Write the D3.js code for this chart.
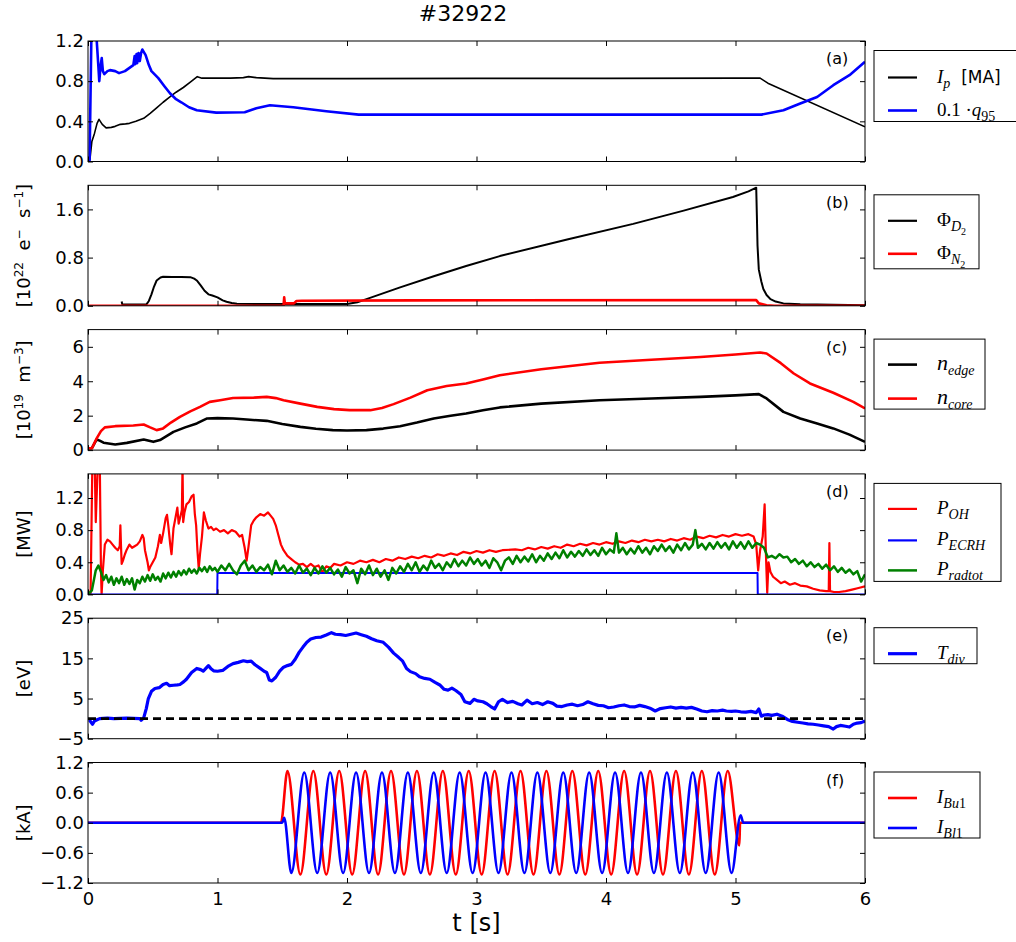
<!DOCTYPE html>
<html>
<head>
<meta charset="utf-8">
<script src="https://cdn.jsdelivr.net/npm/d3@7"></script>
<style>
  html, body { margin: 0; padding: 0; background: #fff; }
  svg { display: block; }
</style>
</head>
<body>
<div class="root"></div>
<script>
// ---- data (shot #32922), [t in s, value] ----
const timeTicks = [0, 1, 2, 3, 4, 5, 6];

const ipMA = [[0,0],[0.015,0.02],[0.03,0.2],[0.05,0.28],[0.07,0.38],[0.085,0.42],[0.11,0.37],[0.14,0.335],[0.18,0.34],[0.21,0.35],[0.25,0.37],[0.29,0.375],[0.32,0.38],[0.37,0.4],[0.43,0.43],[0.48,0.48],[0.53,0.535],[0.58,0.59],[0.63,0.64],[0.68,0.69],[0.736,0.737],[0.79,0.79],[0.844,0.845],[0.88,0.83],[0.95,0.83],[1.1,0.83],[1.2,0.835],[1.24,0.845],[1.3,0.835],[1.43,0.825],[2.0,0.825],[3.0,0.828],[4.0,0.828],[5.0,0.83],[5.19,0.83],[5.25,0.78],[6.0,0.345]];

const q95Scaled = [[0,0],[0.012,0],[0.03,1.6],[0.055,1.6],[0.065,1.25],[0.08,0.95],[0.087,0.8],[0.097,0.95],[0.106,1.03],[0.115,0.9],[0.126,0.87],[0.15,0.9],[0.17,0.91],[0.21,0.9],[0.24,0.88],[0.285,0.9],[0.35,0.96],[0.36,1.05],[0.365,0.97],[0.375,1.07],[0.38,0.98],[0.39,1.08],[0.4,1.0],[0.41,1.08],[0.42,1.115],[0.445,1.06],[0.47,0.96],[0.49,0.9],[0.543,0.83],[0.59,0.75],[0.633,0.68],[0.68,0.62],[0.72,0.59],[0.78,0.54],[0.84,0.51],[0.99,0.487],[1.21,0.49],[1.3,0.53],[1.405,0.56],[1.585,0.54],[1.84,0.5],[2.09,0.467],[5.2,0.467],[5.37,0.51],[5.5,0.577],[5.63,0.643],[5.755,0.76],[5.88,0.86],[6.0,0.993]];

const fluxD2 = [[0.26,0.07],[0.265,0.02],[0.3,0.02],[0.45,0.02],[0.47,0.08],[0.49,0.19],[0.51,0.32],[0.53,0.42],[0.56,0.47],[0.58,0.483],[0.65,0.48],[0.72,0.48],[0.79,0.475],[0.82,0.45],[0.84,0.42],[0.87,0.34],[0.9,0.25],[0.93,0.19],[0.96,0.17],[1.0,0.14],[1.04,0.09],[1.07,0.067],[1.11,0.045],[1.15,0.033],[1.3,0.03],[2.0,0.03],[2.08,0.06],[2.15,0.11],[2.41,0.305],[2.67,0.49],[2.92,0.66],[3.18,0.825],[3.7,1.1],[4.21,1.36],[4.6,1.58],[4.98,1.805],[5.1,1.9],[5.16,1.96],[5.165,1.5],[5.17,1.0],[5.18,0.6],[5.2,0.4],[5.215,0.28],[5.24,0.18],[5.27,0.11],[5.31,0.07],[5.37,0.04],[5.5,0.025],[5.63,0.02],[6.0,0.01]];

const fluxN2 = [[0,0],[1.51,0],[1.515,0.14],[1.52,0.04],[1.59,0.04],[1.61,0.08],[1.65,0.085],[2.5,0.09],[5.16,0.094],[5.18,0.04],[5.24,0.01],[5.3,0],[6.0,0]];

const nEdge = [[0,0.1],[0.03,0.12],[0.067,0.62],[0.09,0.55],[0.12,0.43],[0.21,0.33],[0.3,0.42],[0.43,0.62],[0.505,0.48],[0.556,0.58],[0.6,0.78],[0.66,1.06],[0.75,1.32],[0.84,1.55],[0.92,1.84],[1.0,1.86],[1.12,1.84],[1.25,1.76],[1.38,1.7],[1.5,1.52],[1.64,1.35],[1.76,1.24],[1.89,1.16],[2.0,1.14],[2.15,1.16],[2.28,1.25],[2.41,1.39],[2.54,1.6],[2.67,1.84],[2.8,2.0],[2.92,2.13],[3.05,2.32],[3.18,2.48],[3.5,2.7],[3.95,2.9],[4.35,3.0],[4.73,3.09],[5.0,3.18],[5.18,3.25],[5.24,3.0],[5.37,2.22],[5.5,1.84],[5.63,1.55],[5.755,1.26],[5.88,0.9],[6.0,0.48]];

const nCore = [[0,0.1],[0.03,0.1],[0.067,0.68],[0.1,1.1],[0.13,1.32],[0.21,1.39],[0.35,1.43],[0.43,1.49],[0.48,1.32],[0.53,1.16],[0.58,1.26],[0.64,1.6],[0.71,1.93],[0.79,2.25],[0.865,2.51],[0.94,2.8],[1.02,2.9],[1.12,3.03],[1.28,3.05],[1.38,3.09],[1.45,3.02],[1.51,2.9],[1.64,2.7],[1.77,2.51],[1.9,2.38],[2.02,2.32],[2.18,2.32],[2.27,2.45],[2.36,2.67],[2.49,3.05],[2.62,3.48],[2.77,3.72],[2.92,3.87],[3.05,4.1],[3.18,4.35],[3.5,4.7],[3.95,5.07],[4.35,5.25],[4.73,5.41],[5.0,5.55],[5.19,5.67],[5.24,5.61],[5.35,5.05],[5.45,4.45],[5.575,3.87],[5.755,3.33],[5.91,2.8],[6.0,2.42]];

const pOhmic = [[0,0],[0.02,0],[0.035,1.8],[0.05,1.8],[0.06,0.9],[0.075,1.6],[0.09,1.8],[0.1,0.3],[0.105,0],[0.115,0.3],[0.13,0.62],[0.15,0.68],[0.17,0.66],[0.19,0.62],[0.21,0.58],[0.23,0.55],[0.245,0.6],[0.25,0.86],[0.255,0.6],[0.26,0.38],[0.27,0.42],[0.285,0.5],[0.3,0.56],[0.32,0.62],[0.34,0.58],[0.36,0.6],[0.38,0.62],[0.4,0.66],[0.42,0.74],[0.43,0.7],[0.44,0.55],[0.46,0.4],[0.47,0.3],[0.48,0.34],[0.5,0.4],[0.52,0.46],[0.54,0.6],[0.555,0.74],[0.565,0.64],[0.58,0.76],[0.6,0.95],[0.61,0.99],[0.62,0.86],[0.635,0.62],[0.645,0.5],[0.66,0.82],[0.675,0.95],[0.69,1.08],[0.7,0.88],[0.715,0.98],[0.725,1.05],[0.73,1.6],[0.735,0.9],[0.745,1.02],[0.76,1.12],[0.78,1.15],[0.8,1.22],[0.815,1.24],[0.825,1.0],[0.835,0.86],[0.845,0.55],[0.855,0.32],[0.865,0.5],[0.88,0.72],[0.895,1.02],[0.91,0.92],[0.93,0.82],[0.95,0.84],[0.97,0.8],[0.99,0.82],[1.02,0.78],[1.05,0.8],[1.08,0.76],[1.11,0.8],[1.14,0.78],[1.17,0.72],[1.19,0.74],[1.21,0.58],[1.225,0.42],[1.24,0.6],[1.26,0.86],[1.28,0.92],[1.3,0.96],[1.33,1.0],[1.36,0.98],[1.39,1.02],[1.41,0.98],[1.43,0.94],[1.45,0.86],[1.47,0.74],[1.49,0.62],[1.51,0.55],[1.54,0.48],[1.57,0.44],[1.6,0.4],[1.63,0.37],[1.66,0.38],[1.69,0.34],[1.72,0.38],[1.75,0.34],[1.78,0.36],[1.81,0.28],[1.84,0.35],[1.87,0.33],[1.9,0.38],[1.95,0.36],[2.0,0.4],[2.05,0.38],[2.1,0.42],[2.15,0.4],[2.2,0.43],[2.25,0.4],[2.3,0.44],[2.35,0.42],[2.4,0.46],[2.45,0.44],[2.5,0.47],[2.55,0.45],[2.6,0.48],[2.65,0.46],[2.7,0.5],[2.75,0.48],[2.8,0.51],[2.85,0.49],[2.9,0.53],[2.95,0.51],[3.0,0.54],[3.05,0.52],[3.1,0.55],[3.15,0.53],[3.2,0.55],[3.3,0.56],[3.35,0.55],[3.4,0.58],[3.45,0.56],[3.5,0.59],[3.55,0.57],[3.6,0.6],[3.65,0.58],[3.7,0.62],[3.75,0.6],[3.8,0.63],[3.85,0.61],[3.9,0.64],[3.95,0.62],[4.0,0.65],[4.05,0.63],[4.1,0.66],[4.15,0.64],[4.2,0.67],[4.25,0.65],[4.3,0.68],[4.35,0.66],[4.4,0.68],[4.45,0.66],[4.5,0.69],[4.55,0.67],[4.6,0.7],[4.65,0.68],[4.7,0.72],[4.75,0.7],[4.8,0.73],[4.85,0.71],[4.9,0.74],[4.95,0.72],[5.0,0.75],[5.05,0.73],[5.1,0.75],[5.14,0.72],[5.16,0.62],[5.175,0.3],[5.19,0.55],[5.21,0.72],[5.225,1.12],[5.235,0.5],[5.245,0.02],[5.255,0.4],[5.27,0.28],[5.29,0.22],[5.32,0.18],[5.35,0.14],[5.38,0.16],[5.42,0.12],[5.46,0.14],[5.5,0.11],[5.55,0.1],[5.6,0.07],[5.65,0.05],[5.7,0.04],[5.72,0.04],[5.725,0.64],[5.73,0.04],[5.76,0.03],[5.8,0.03],[5.85,0.04],[5.9,0.06],[5.95,0.08],[6.0,0.1]];

const pEcrh = [[0,0],[0.998,0],[1.0,0.265],[5.17,0.265],[5.172,0],[6.0,0]];

const pRadTot = [[0,0],[0.03,0.05],[0.06,0.3],[0.08,0.36],[0.1,0.28],[0.12,0.18],[0.14,0.24],[0.16,0.15],[0.18,0.22],[0.2,0.12],[0.22,0.2],[0.24,0.14],[0.26,0.22],[0.28,0.12],[0.3,0.19],[0.32,0.13],[0.34,0.2],[0.36,0.06],[0.38,0.18],[0.4,0.14],[0.42,0.22],[0.44,0.16],[0.46,0.24],[0.48,0.17],[0.5,0.25],[0.52,0.18],[0.54,0.22],[0.56,0.16],[0.58,0.26],[0.6,0.2],[0.62,0.27],[0.64,0.21],[0.66,0.28],[0.68,0.22],[0.7,0.29],[0.72,0.24],[0.74,0.3],[0.76,0.25],[0.78,0.32],[0.8,0.27],[0.82,0.31],[0.84,0.26],[0.86,0.33],[0.88,0.29],[0.9,0.34],[0.92,0.28],[0.94,0.35],[0.96,0.3],[0.98,0.33],[1.0,0.28],[1.03,0.36],[1.06,0.3],[1.09,0.38],[1.12,0.3],[1.15,0.25],[1.18,0.36],[1.21,0.42],[1.24,0.3],[1.27,0.36],[1.3,0.28],[1.33,0.34],[1.36,0.3],[1.39,0.37],[1.42,0.25],[1.45,0.42],[1.48,0.3],[1.51,0.36],[1.54,0.28],[1.57,0.33],[1.6,0.26],[1.63,0.36],[1.66,0.27],[1.69,0.32],[1.72,0.24],[1.75,0.33],[1.78,0.26],[1.81,0.35],[1.84,0.27],[1.87,0.33],[1.9,0.25],[1.93,0.31],[1.96,0.22],[1.99,0.34],[2.02,0.26],[2.05,0.3],[2.08,0.14],[2.11,0.32],[2.14,0.25],[2.17,0.36],[2.2,0.24],[2.23,0.32],[2.26,0.22],[2.29,0.3],[2.32,0.18],[2.35,0.33],[2.38,0.26],[2.41,0.35],[2.44,0.28],[2.47,0.38],[2.5,0.3],[2.53,0.4],[2.56,0.28],[2.59,0.36],[2.62,0.3],[2.65,0.42],[2.68,0.33],[2.71,0.38],[2.74,0.3],[2.77,0.4],[2.8,0.34],[2.83,0.44],[2.86,0.35],[2.89,0.42],[2.92,0.36],[2.95,0.46],[2.98,0.38],[3.01,0.44],[3.04,0.36],[3.07,0.42],[3.1,0.33],[3.13,0.45],[3.16,0.4],[3.19,0.3],[3.22,0.42],[3.25,0.46],[3.28,0.38],[3.31,0.48],[3.34,0.4],[3.37,0.47],[3.4,0.41],[3.43,0.5],[3.46,0.4],[3.49,0.48],[3.52,0.42],[3.55,0.51],[3.58,0.44],[3.61,0.52],[3.64,0.45],[3.67,0.55],[3.7,0.46],[3.73,0.53],[3.76,0.47],[3.79,0.54],[3.82,0.48],[3.85,0.56],[3.88,0.49],[3.91,0.55],[3.94,0.48],[3.97,0.58],[4.0,0.5],[4.03,0.56],[4.06,0.52],[4.08,0.76],[4.1,0.52],[4.13,0.58],[4.16,0.5],[4.19,0.57],[4.22,0.51],[4.25,0.6],[4.28,0.52],[4.31,0.58],[4.34,0.5],[4.37,0.6],[4.4,0.54],[4.43,0.62],[4.46,0.54],[4.49,0.6],[4.52,0.52],[4.55,0.62],[4.58,0.55],[4.61,0.64],[4.64,0.56],[4.67,0.62],[4.69,0.8],[4.71,0.58],[4.74,0.63],[4.77,0.56],[4.8,0.64],[4.83,0.57],[4.86,0.65],[4.89,0.58],[4.92,0.64],[4.95,0.56],[4.98,0.66],[5.01,0.58],[5.04,0.65],[5.07,0.57],[5.1,0.66],[5.13,0.58],[5.16,0.64],[5.19,0.62],[5.22,0.58],[5.25,0.46],[5.28,0.48],[5.31,0.45],[5.34,0.5],[5.37,0.46],[5.4,0.47],[5.43,0.4],[5.46,0.44],[5.49,0.38],[5.52,0.42],[5.55,0.35],[5.58,0.4],[5.61,0.34],[5.64,0.38],[5.67,0.32],[5.7,0.37],[5.73,0.3],[5.76,0.35],[5.79,0.28],[5.82,0.33],[5.85,0.27],[5.88,0.31],[5.91,0.25],[5.94,0.29],[5.97,0.16],[6.0,0.25]];

const tDiv = [[0.01,-0.3],[0.035,-1.4],[0.05,-0.6],[0.07,-0.3],[0.09,0],[0.15,0.1],[0.2,0],[0.3,0.1],[0.4,0],[0.41,-0.4],[0.43,0.2],[0.45,2.5],[0.466,5.0],[0.49,6.8],[0.517,7.5],[0.55,7.7],[0.58,8.5],[0.607,8.8],[0.63,8.2],[0.66,8.3],[0.69,8.4],[0.71,8.5],[0.74,9.2],[0.76,9.8],[0.8,11.5],[0.84,12.5],[0.87,12.2],[0.89,11.8],[0.91,12.5],[0.93,13.2],[0.95,12.4],[0.97,11.9],[1.0,11.8],[1.04,12.0],[1.08,13.0],[1.12,13.7],[1.16,14.0],[1.2,14.4],[1.23,14.2],[1.26,14.3],[1.29,13.4],[1.33,12.5],[1.36,11.8],[1.38,11.5],[1.4,9.6],[1.42,9.4],[1.45,10.3],[1.48,11.8],[1.51,12.8],[1.54,13.2],[1.57,13.5],[1.6,14.8],[1.63,16.5],[1.66,17.8],[1.69,19.0],[1.72,19.8],[1.76,20.2],[1.8,20.3],[1.84,20.8],[1.88,21.4],[1.91,21.0],[1.95,20.9],[1.99,20.7],[2.03,21.0],[2.07,21.3],[2.11,20.9],[2.15,20.5],[2.19,19.9],[2.23,19.4],[2.28,19.0],[2.32,17.8],[2.36,16.3],[2.4,15.2],[2.43,14.3],[2.46,12.5],[2.49,11.7],[2.53,11.2],[2.56,10.4],[2.6,10.0],[2.64,9.8],[2.68,9.0],[2.72,8.3],[2.75,7.3],[2.78,7.1],[2.81,7.6],[2.84,7.0],[2.88,6.0],[2.91,4.2],[2.95,3.8],[2.98,4.8],[3.01,4.4],[3.05,4.2],[3.08,3.7],[3.11,3.0],[3.14,2.4],[3.17,4.2],[3.2,4.8],[3.24,4.0],[3.28,4.3],[3.32,3.7],[3.35,3.4],[3.39,4.6],[3.43,3.7],[3.47,4.0],[3.51,3.5],[3.55,4.2],[3.59,3.8],[3.62,3.1],[3.66,3.0],[3.7,3.4],[3.74,3.6],[3.78,3.2],[3.82,3.5],[3.86,4.2],[3.9,3.7],[3.94,3.3],[3.98,3.2],[4.02,2.7],[4.06,2.9],[4.1,3.2],[4.14,3.4],[4.18,3.0],[4.22,2.9],[4.26,3.3],[4.3,3.0],[4.34,2.6],[4.38,1.9],[4.42,2.5],[4.46,2.7],[4.5,2.9],[4.54,2.6],[4.58,2.8],[4.62,2.6],[4.66,2.8],[4.7,2.4],[4.74,1.9],[4.78,1.7],[4.82,2.0],[4.86,1.9],[4.9,2.1],[4.93,1.9],[4.97,1.8],[5.0,1.9],[5.04,1.7],[5.08,1.6],[5.12,1.8],[5.16,1.5],[5.18,2.4],[5.2,0.6],[5.22,0.9],[5.25,1.0],[5.28,0.8],[5.32,1.1],[5.36,0.6],[5.4,-0.2],[5.44,-0.7],[5.48,-0.9],[5.52,-1.1],[5.56,-1.3],[5.6,-1.4],[5.64,-1.6],[5.68,-1.8],[5.72,-2.0],[5.755,-2.6],[5.78,-2.0],[5.81,-1.7],[5.85,-1.9],[5.88,-2.1],[5.91,-1.4],[5.94,-1.1],[5.97,-1.0],[6.0,-0.6]];

// coil currents: start, peaks/troughs, end
const iBu1 = [[0,0],[1.49,0],[1.54,1.03],[1.64,-1.03],[1.74,1.03],[1.84,-1.03],[1.94,1.03],[2.04,-1.03],[2.14,1.03],[2.24,-1.03],[2.34,1.03],[2.44,-1.03],[2.54,1.03],[2.64,-1.03],[2.74,1.03],[2.84,-1.03],[2.94,1.03],[3.04,-1.03],[3.14,1.03],[3.24,-1.03],[3.34,1.03],[3.44,-1.03],[3.54,1.03],[3.64,-1.03],[3.74,1.03],[3.84,-1.03],[3.94,1.03],[4.04,-1.03],[4.14,1.03],[4.24,-1.03],[4.34,1.03],[4.44,-1.03],[4.54,1.03],[4.64,-1.03],[4.74,1.03],[4.84,-1.03],[4.94,1.03],[5.03,-0.45],[5.035,0],[6.0,0]];

const iBl1 = [[0,0],[1.5,0],[1.515,0.1],[1.57,-1.0],[1.67,1.0],[1.77,-1.0],[1.87,1.0],[1.97,-1.0],[2.07,1.0],[2.17,-1.0],[2.27,1.0],[2.37,-1.0],[2.47,1.0],[2.57,-1.0],[2.67,1.0],[2.77,-1.0],[2.87,1.0],[2.97,-1.0],[3.07,1.0],[3.17,-1.0],[3.27,1.0],[3.37,-1.0],[3.47,1.0],[3.57,-1.0],[3.67,1.0],[3.77,-1.0],[3.87,1.0],[3.97,-1.0],[4.07,1.0],[4.17,-1.0],[4.27,1.0],[4.37,-1.0],[4.47,1.0],[4.57,-1.0],[4.67,1.0],[4.77,-1.0],[4.87,1.0],[4.97,-1.0],[5.04,0.15],[5.06,0],[6.0,0]];

const ticksA = [0, 0.4, 0.8, 1.2];
const ticksB = [0, 0.8, 1.6];
const ticksC = [0, 2, 4, 6];
const ticksD = [0, 0.4, 0.8, 1.2];
const ticksE = [-5, 5, 15, 25];
const ticksF = [-1.2, -0.6, 0, 0.6, 1.2];

// ---- layout ----
const svgWidth = 1016;
const svgHeight = 942;
const left = 88, right = 865, panelH = 120.5, panelStep = 144.3, firstTop = 41;

const svg = d3.select('.root')
  .append('svg')
  .attr('width', svgWidth)
  .attr('height', svgHeight);

svg.append('rect').attr('width', svgWidth).attr('height', svgHeight).attr('fill', '#fff');

const x = d3.scaleLinear().domain([0, 6]).range([left, right]);

const panels = [
  { tag: '(a)', domain: [0, 1.2], ticks: ticksA, fmt: '.1f', ylabel: null,
    series: [
      { data: ipMA, color: '#000', w: 1.6, label: [{t:'I',i:1},{t:'p',i:1,s:1},{t:'  [MA]',sans:1}] },
      { data: q95Scaled, color: '#0000ff', w: 2.6, label: [{t:'0.1 ·'},{t:'q',i:1},{t:'95',s:1}] }
    ],
    legend: { w: 150, h: 71, rows: [27, 60] } },
  { tag: '(b)', domain: [0, 2.0], ticks: ticksB, fmt: '.1f',
    ylabel: [{t:'[10'},{t:'22',sup:1},{t:'  e'},{t:'−',sup:1},{t:'  s'},{t:'−1',sup:1},{t:']'}],
    series: [
      { data: fluxD2, color: '#000', w: 2, label: [{t:'Φ'},{t:'D',i:1,s:1},{t:'2',s:2}] },
      { data: fluxN2, color: '#ff0000', w: 2.6, label: [{t:'Φ'},{t:'N',i:1,s:1},{t:'2',s:2}] }
    ],
    legend: { w: 105, h: 74, rows: [26, 59] } },
  { tag: '(c)', domain: [0, 7], ticks: ticksC, fmt: 'd',
    ylabel: [{t:'[10'},{t:'19',sup:1},{t:'  m'},{t:'−3',sup:1},{t:']'}],
    series: [
      { data: nEdge, color: '#000', w: 2.6, label: [{t:'n',i:1,big:1},{t:'edge',i:1,s:1}] },
      { data: nCore, color: '#ff0000', w: 2.6, label: [{t:'n',i:1,big:1},{t:'core',i:1,s:1}] }
    ],
    legend: { w: 111, h: 70, rows: [25.5, 59.5] } },
  { tag: '(d)', domain: [0, 1.5], ticks: ticksD, fmt: '.1f', ylabel: [{t:'[MW]'}],
    series: [
      { data: pOhmic, color: '#ff0000', w: 2.2, label: [{t:'P',i:1},{t:'OH',i:1,s:1}] },
      { data: pEcrh, color: '#0000ff', w: 2, label: [{t:'P',i:1},{t:'ECRH',i:1,s:1}] },
      { data: pRadTot, color: '#008000', w: 2.5, label: [{t:'P',i:1},{t:'radtot',i:1,s:1}] }
    ],
    legend: { w: 127, h: 98, rows: [25.5, 57, 87] } },
  { tag: '(e)', domain: [-5, 25], ticks: ticksE, fmt: 'd', ylabel: [{t:'[eV]'}], zeroLine: true,
    series: [
      { data: tDiv, color: '#0000ff', w: 3.2, label: [{t:'T',i:1},{t:'div',i:1,s:1}] }
    ],
    legend: { w: 103, h: 36, rows: [26] } },
  { tag: '(f)', domain: [-1.2, 1.2], ticks: ticksF, fmt: '.1f', ylabel: [{t:'[kA]'}], curve: d3.curveMonotoneX,
    series: [
      { data: iBu1, color: '#ff0000', w: 2.6, label: [{t:'I',i:1},{t:'Bu',i:1,s:1},{t:'1',s:1}] },
      { data: iBl1, color: '#0000ff', w: 2.6, label: [{t:'I',i:1},{t:'Bl',i:1,s:1},{t:'1',s:1}] }
    ],
    legend: { w: 106, h: 66, rows: [26, 56] } }
];

// math-ish text: italic serif, nested subscripts
function mathText(sel, parts) {
  let cur = 0;
  const offs = [0, 5, 9];
  const sizes = [19, 14, 10];
  parts.forEach(p => {
    const lvl = p.s || 0;
    const off = offs[lvl];
    sel.append('tspan')
      .attr('dy', off - cur)
      .attr('font-family', p.sans ? '"DejaVu Sans", sans-serif' : '"Liberation Serif", serif')
      .attr('font-style', p.i ? 'italic' : 'normal')
      .attr('font-size', p.big ? 22 : (p.sans ? 17 : sizes[lvl]))
      .style('white-space', 'pre')
      .text(p.t);
    cur = off;
  });
}

function labelText(sel, parts) {
  let cur = 0;
  parts.forEach(p => {
    const off = p.sup ? -7 : 0;
    sel.append('tspan')
      .attr('dy', off - cur)
      .attr('font-size', p.sup ? 12 : 18)
      .style('white-space', 'pre')
      .text(p.t);
    cur = off;
  });
}

panels.forEach((p, i) => {
  const top = firstTop + i * panelStep;
  const bottom = top + panelH;
  const y = d3.scaleLinear().domain(p.domain).range([bottom, top]);
  const g = svg.append('g').attr('class', 'panel');

  const clipId = 'clip' + i;
  svg.append('clipPath').attr('id', clipId)
    .append('rect').attr('x', left).attr('y', top).attr('width', right - left).attr('height', panelH);

  const line = d3.line()
    .curve(p.curve || d3.curveLinear)
    .x(d => x(d[0]))
    .y(d => y(d[1]));

  g.selectAll('.series')
    .data(p.series)
    .enter()
    .append('path')
    .attr('class', 'series')
    .attr('clip-path', `url(#${clipId})`)
    .attr('d', d => line(d.data))
    .attr('fill', 'none')
    .attr('stroke', d => d.color)
    .attr('stroke-width', d => d.w)
    .attr('stroke-linejoin', 'round');

  if (p.zeroLine) {
    g.append('line')
      .attr('x1', left).attr('x2', right)
      .attr('y1', y(0)).attr('y2', y(0))
      .attr('stroke', '#000').attr('stroke-width', 2.6)
      .attr('stroke-dasharray', '8,5');
  }

  // frame
  g.append('rect')
    .attr('x', left).attr('y', top).attr('width', right - left).attr('height', panelH)
    .attr('fill', 'none').attr('stroke', '#000').attr('stroke-width', 1);

  const styleAxis = a => {
    a.select('.domain').remove();
    a.selectAll('line').attr('stroke', '#000');
    a.selectAll('text').attr('font-size', 18).attr('font-family', '"DejaVu Sans", sans-serif').attr('fill', '#000');
  };

  g.append('g')
    .attr('transform', `translate(${left},0)`)
    .call(d3.axisLeft(y).tickValues(p.ticks).tickSize(-5).tickPadding(4).tickFormat(d3.format(p.fmt)))
    .call(styleAxis);
  g.append('g')
    .attr('transform', `translate(${right},0)`)
    .call(d3.axisRight(y).tickValues(p.ticks).tickSize(-5).tickFormat(''))
    .call(styleAxis);
  g.append('g')
    .attr('transform', `translate(0,${top})`)
    .call(d3.axisTop(x).tickValues(timeTicks).tickSize(-5).tickFormat(''))
    .call(styleAxis);
  g.append('g')
    .attr('transform', `translate(0,${bottom})`)
    .call(d3.axisBottom(x).tickValues(timeTicks).tickSize(-5).tickPadding(9)
      .tickFormat(i === panels.length - 1 ? d3.format('d') : ''))
    .call(styleAxis);

  // panel tag
  g.append('text')
    .attr('x', 826).attr('y', top + 23)
    .attr('font-family', '"DejaVu Sans", sans-serif').attr('font-size', 16)
    .text(p.tag);

  // y label
  if (p.ylabel) {
    const yl = g.append('text')
      .attr('transform', `translate(30,${(top + bottom) / 2}) rotate(-90)`)
      .attr('text-anchor', 'middle')
      .attr('font-family', '"DejaVu Sans", sans-serif');
    labelText(yl, p.ylabel);
  }

  // legend
  const lg = g.append('g').attr('transform', `translate(874,${top + 9.5})`);
  lg.append('rect')
    .attr('width', p.legend.w).attr('height', p.legend.h)
    .attr('fill', '#fff').attr('stroke', '#000').attr('stroke-width', 1);
  p.series.forEach((s, k) => {
    const ry = p.legend.rows[k];
    lg.append('line')
      .attr('x1', 14).attr('x2', 43).attr('y1', ry).attr('y2', ry)
      .attr('stroke', s.color).attr('stroke-width', Math.max(s.w, 2.2));
    const t = lg.append('text').attr('x', 63).attr('y', ry + 5);
    mathText(t, s.label);
  });
});

// title and x label
svg.append('text')
  .attr('x', 463).attr('y', 21)
  .attr('text-anchor', 'middle')
  .attr('font-family', '"DejaVu Sans", sans-serif').attr('font-size', 22)
  .text('#32922');

svg.append('text')
  .attr('x', (left + right) / 2).attr('y', 931)
  .attr('text-anchor', 'middle')
  .attr('font-family', '"DejaVu Sans", sans-serif').attr('font-size', 24)
  .text('t [s]');
</script>
</body>
</html>
